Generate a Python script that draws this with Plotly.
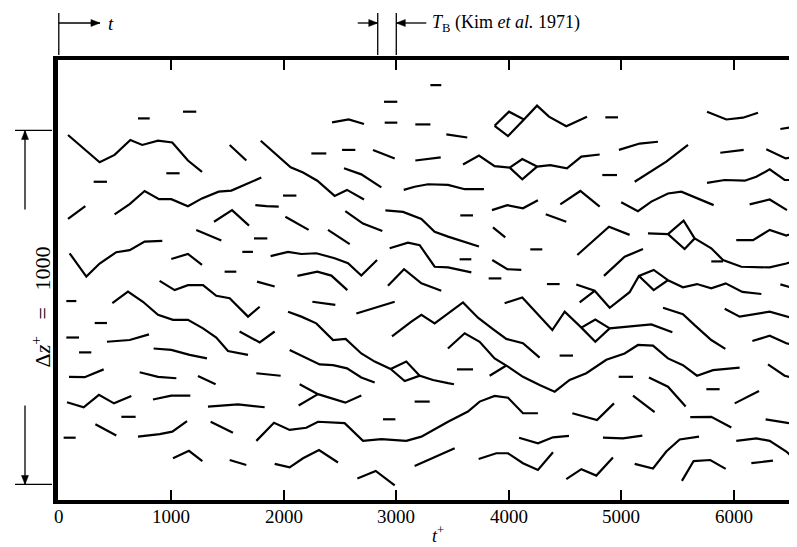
import plotly.graph_objects as go

# ---------------- data (t+ , z+) ----------------
T_RANGE = [-7, 6633]
Z_RANGE = [0, 1243]
X_TICKS = [0, 1000, 2000, 3000, 4000, 5000, 6000]
X_TICK_LABELS = ["0", "1000", "2000", "3000", "4000", "5000", "6000"]
DZ_BAR = [44, 1044]          # scale bar: delta z+ = 1000
TB_MARKS = [2835, 3000]      # burst period marker (Kim et al. 1971)
T_ARROW_END = 366

STREAK_T = [
    [704, 808], [1104, 1222],
    [82, 363, 496, 636, 742, 882, 1009, 1148, 1273],
    [1519, 1667], [310, 428], [956, 1074], [82, 236],
    [496, 630, 763, 891, 1000, 1148, 1273, 1421, 1534, 1800],
    [1380, 1540, 1691], [1222, 1445], [1631, 1726],
    [96, 245, 363, 511, 630, 763, 920],
    [1000, 1148, 1273], [1474, 1578],
    [896, 1030, 1148, 1282, 1400, 1519, 1682, 1786],
    [476, 615, 748, 882, 1015, 1148, 1282, 1400, 1504, 1682],
    [1607, 1786, 1919],
    [67, 156], [319, 428], [67, 180], [428, 630, 802], [180, 289],
    [843, 1000, 1163, 1317], [91, 230, 399], [719, 882, 1045],
    [1237, 1394], [73, 221, 357, 491, 645], [837, 1000, 1169],
    [1326, 1593, 1830], [556, 683], [325, 511], [43, 150],
    [704, 897, 1009, 1140], [1350, 1548], [1015, 1157, 1276], [1519, 1667],
    [2891, 3009], [3303, 3400], [2429, 2577, 2713], [2897, 3009], [3169, 3303],
    [1795, 1934, 2061, 2171, 2298, 2452, 2562, 2713],
    [2245, 2378], [2518, 2636], [2793, 2986], [3169, 3395],
    [2535, 2689, 2867], [3066, 3163, 3282, 3460, 3608, 3779],
    [1993, 2112], [1747, 1845, 1955], [2547, 2704, 2876], [2014, 2221],
    [2903, 3060, 3223, 3341, 3460, 3735], [2393, 2586], [1735, 1854],
    [2941, 3104, 3208, 3341, 3460, 3667],
    [1883, 2038, 2156, 2289, 2452, 2571, 2689, 2829],
    [2121, 2298, 2423, 2565], [1762, 1919], [2926, 3069, 3223, 3400],
    [2254, 2458], [2645, 2986],
    [2038, 2156, 2289, 2438, 2550, 2689, 2808, 2950, 3089, 3208, 3075, 2950, 3075, 3208, 3326, 3460, 3513],
    [2052, 2171, 2319, 2438, 2562, 2689, 2808], [1756, 1972],
    [2141, 2304, 2547, 2689], [2132, 2304], [3163, 3297], [2882, 2992],
    [1756, 1913, 2052, 2200, 2304, 2541, 2704, 2867, 3089, 3223, 3460, 3519, 3637, 3741, 3874, 3993, 4126, 4259],
    [1919, 2052, 2171, 2313, 2482], [2654, 2817, 2986], [3163, 3460, 3519],
    [2962, 3134, 3223, 3341, 3593, 3726, 3859, 3978, 4126, 4274],
    [3874, 4002, 4135, 3993, 3874, 3993, 4135, 4251, 4357, 4511, 4695],
    [4858, 4971], [3445, 3631],
    [3593, 3735, 3874, 4008, 4120, 4251, 4120, 4008, 4120, 4251, 4369, 4517, 4645, 4808],
    [4979, 5163, 5326], [4831, 4962], [5119, 5400, 5593], [3569, 3682],
    [3850, 3987, 4126, 4259], [4458, 4636, 4808],
    [4999, 5148, 5267, 5415, 5534, 5821], [4328, 4511], [3859, 3969],
    [4191, 4298], [4609, 4748, 4891, 5074], [3563, 3667], [3853, 3987, 4111],
    [3821, 3934], [4339, 4452], [4846, 5030, 5193],
    [4600, 4763, 4897, 5074, 5157, 5288, 5415, 5288, 5157, 5288, 5415, 5548, 5673, 5800, 5928, 6076, 6245],
    [4630, 4763],
    [5762, 5934, 6082, 6215], [6414, 6615], [5880, 6088], [6289, 6461, 6615],
    [5762, 5919, 6097, 6200, 6319, 6452, 6615], [6141, 6319, 6473],
    [5237, 5415, 5554, 5652, 5563, 5415, 5563, 5652, 5800, 5904, 6067, 6319, 6467, 6615],
    [5800, 5904], [6022, 6171, 6319, 6467, 6615], [6414, 6615],
    [3459, 3608, 3741, 3874, 3993, 4126, 4274, 4408, 4541, 4689, 4867, 5030, 5148, 5282, 5415, 5548, 5673, 5815, 6052],
    [3830, 3978], [3539, 3682], [4452, 4571], [4977, 5104],
    [3963, 4120, 4387, 4497, 4645, 4769, 4897, 4769, 4645, 4769, 4897, 5267, 5454],
    [4565, 4784, 4935], [5104, 5296], [4091, 4259, 4393, 4535],
    [4837, 5015, 5187], [3732, 3889, 3993, 4126, 4259, 4393],
    [4511, 4645, 4778, 4926], [5119, 5282, 5400, 5519, 5691],
    [5371, 5548, 5652, 5800, 5925], [5919, 6052, 6319, 6467, 6630],
    [6165, 6319, 6467, 6615], [6304, 6452, 6630], [5246, 5415, 5572],
    [5756, 5874], [6008, 6224], [6526, 6630], [5613, 5800, 5978],
    [6283, 6491], [6022, 6200, 6319, 6467, 6585], [5539, 5643, 5791, 5928],
    [6156, 6348],
]

STREAK_Z = [
    [1078, 1078], [1097, 1097],
    [1031, 954, 975, 1017, 1003, 1015, 1010, 959, 927],
    [1003, 959], [899, 899], [923, 923], [794, 830],
    [807, 836, 873, 850, 850, 830, 852, 871, 874, 911],
    [786, 819, 775], [763, 733], [701, 701],
    [697, 631, 668, 700, 706, 730, 732],
    [681, 695, 664], [645, 645],
    [619, 593, 607, 607, 577, 570, 518, 546],
    [556, 589, 560, 523, 509, 509, 485, 459, 421, 410],
    [476, 445, 476],
    [562, 562], [500, 500], [459, 459], [447, 452, 468], [417, 417],
    [428, 424, 410, 400], [348, 347, 369], [361, 348, 344],
    [350, 327], [276, 262, 297, 273, 294], [284, 295, 295],
    [264, 270, 262], [235, 235], [214, 182], [176, 176],
    [179, 186, 193, 223], [221, 190], [118, 139, 110], [113, 99],
    [1125, 1125], [1172, 1172], [1067, 1075, 1062], [1066, 1066], [1061, 1061],
    [1015, 976, 940, 925, 902, 859, 876, 849],
    [979, 979], [989, 989], [989, 965], [959, 968],
    [937, 920, 883], [876, 885, 892, 890, 878, 878],
    [860, 860], [833, 830, 829], [816, 781, 760], [800, 763],
    [818, 814, 794, 758, 744, 716], [763, 723], [739, 739],
    [711, 727, 720, 659, 657, 643],
    [689, 701, 695, 697, 683, 669, 634, 678],
    [633, 645, 634, 593], [617, 603], [605, 652, 612, 591],
    [560, 551], [527, 560],
    [532, 518, 499, 452, 455, 414, 391, 370, 391, 351, 336, 370, 336, 351, 339, 330, 327],
    [424, 405, 383, 381, 372, 346, 332], [358, 351],
    [327, 299, 275, 295], [267, 299], [278, 278], [228, 228],
    [167, 218, 198, 204, 221, 217, 167, 172, 167, 179, 221, 231, 250, 278, 294, 289, 245, 245],
    [102, 92, 118, 141, 106], [61, 82, 41], [96, 137, 146],
    [462, 504, 523, 499, 558, 515, 483, 455, 443, 402],
    [1057, 1097, 1075, 1028, 1057, 1028, 1075, 1114, 1083, 1056, 1083],
    [1081, 1081], [1033, 1024],
    [948, 973, 943, 939, 963, 942, 906, 939, 906, 942, 946, 937, 970, 976],
    [989, 1007, 1012], [918, 918], [899, 956, 1003], [804, 804],
    [819, 833, 824, 847], [835, 873, 829],
    [841, 816, 843, 866, 871, 833], [807, 786], [770, 742],
    [708, 708], [692, 732, 772, 749], [680, 680], [678, 652, 650],
    [626, 626], [610, 610], [633, 687, 709],
    [609, 591, 543, 587, 633, 650, 621, 593, 633, 593, 621, 601, 610, 598, 612, 588, 582],
    [558, 591],
    [1097, 1075, 1080, 1094], [1048, 1059], [981, 989], [991, 965, 972],
    [896, 904, 902, 913, 934, 904, 904], [835, 849, 819],
    [753, 751, 789, 739, 709, 751, 709, 739, 711, 678, 659, 657, 668, 683],
    [674, 674], [734, 734, 763, 747, 763], [609, 591],
    [428, 471, 447, 400, 377, 348, 325, 306, 339, 358, 396, 414, 438, 436, 400, 381, 351, 367, 374],
    [351, 380], [369, 369], [408, 408], [348, 348],
    [556, 572, 480, 532, 487, 510, 485, 447, 487, 447, 485, 496, 474],
    [245, 226, 273], [295, 248], [176, 160, 177, 181],
    [176, 174, 182], [116, 132, 132, 104, 85, 135],
    [59, 87, 69, 120], [102, 89, 137, 171, 179],
    [543, 525, 494, 452, 427], [540, 518, 532, 518, 504],
    [449, 464, 443, 430], [383, 351, 336], [346, 320, 264],
    [313, 313], [273, 308], [267, 267], [234, 235, 205],
    [228, 217], [167, 174, 167, 137, 102], [54, 110, 113, 88],
    [104, 111],
]

# ---------------- layout geometry ----------------
W, H = 797, 547
ML, MR, MT, MB = 50, 0, 52, 55
PW, PH = W - ML - MR, H - MT - MB
SERIF = "Liberation Serif"
NB = "\u00a0"


def t_px(t):
    return ML + (t - T_RANGE[0]) / (T_RANGE[1] - T_RANGE[0]) * PW


def z_py(z):
    return MT + PH - (z - Z_RANGE[0]) / (Z_RANGE[1] - Z_RANGE[0]) * PH


def px_x(px):
    return (px - ML) / PW


def px_y(py):
    return (MT + PH - py) / PH


shapes = []
annotations = []
LINE = dict(color="black", width=1.3)


def seg(x0, y0, x1, y1):
    shapes.append(dict(type="line", xref="paper", yref="paper",
                       x0=px_x(x0), y0=px_y(y0), x1=px_x(x1), y1=px_y(y1), line=LINE))


def head(tx, ty, dx, dy, length=9, half=3.5):
    # filled triangle, tip at (tx, ty) pixels, pointing along (dx, dy)
    bx, by = tx - dx * length, ty - dy * length
    nx, ny = -dy, dx
    pts = [(tx, ty), (bx + nx * half, by + ny * half), (bx - nx * half, by - ny * half)]
    path = "M " + " L ".join(f"{px_x(a):.5f},{px_y(b):.5f}" for a, b in pts) + " Z"
    shapes.append(dict(type="path", xref="paper", yref="paper", path=path,
                       fillcolor="black", line=dict(color="black", width=0.5)))


xs, zs = [], []
for tt, zz in zip(STREAK_T, STREAK_Z):
    xs += list(tt) + [None]
    zs += list(zz) + [None]

fig = go.Figure(go.Scatter(x=xs, y=zs, mode="lines", connectgaps=False,
                           line=dict(color="black", width=2.2), hoverinfo="skip"))

# ---- scale bar on the left ----
BX = 17
y_top, y_bot = z_py(DZ_BAR[1]), z_py(DZ_BAR[0])
y_mid = (y_top + y_bot) / 2
GAP = 98
seg(BX, y_top, BX, y_mid - GAP)
seg(BX, y_mid + GAP, BX, y_bot)
for yb in (y_top, y_bot):
    seg(7, yb, 44, yb)
head(BX, y_top, 0, -1)
head(BX, y_bot, 0, 1)
annotations.append(dict(xref="paper", yref="paper", x=px_x(BX), y=px_y(y_mid),
                        text="\u0394<i>z</i><sup>+</sup>" + NB * 3 + "=" + NB * 3 + "1000",
                        textangle=-90, showarrow=False,
                        font=dict(family=SERIF, size=22, color="black")))

# ---- top markers ----
Y0, Y1, YA = 5, 47, 15
for tv in [0] + TB_MARKS:
    seg(t_px(tv), Y0, t_px(tv), Y1)
x_arr = t_px(T_ARROW_END)
seg(t_px(0), YA, x_arr, YA)
head(x_arr, YA, 1, 0)
annotations.append(dict(xref="paper", yref="paper", x=px_x(x_arr + 6), y=px_y(YA),
                        xanchor="left", yanchor="middle", showarrow=False, text="<i>t</i>",
                        font=dict(family=SERIF, size=19, color="black")))
xa, xb = t_px(TB_MARKS[0]), t_px(TB_MARKS[1])
seg(xa - 20, YA, xa, YA)
head(xa, YA, 1, 0)
seg(xb, YA, xb + 30, YA)
head(xb, YA, -1, 0)
annotations.append(dict(xref="paper", yref="paper", x=px_x(xb + 34), y=px_y(YA),
                        xanchor="left", yanchor="middle", showarrow=False,
                        text="<i>T</i><sub>B</sub> (Kim <i>et al.</i> 1971)",
                        font=dict(family=SERIF, size=18, color="black")))

# ---- x tick labels ----
for tv, tl in zip(X_TICKS, X_TICK_LABELS):
    annotations.append(dict(xref="x", yref="paper", x=tv, y=px_y(508),
                            xanchor="center", yanchor="middle", showarrow=False,
                            text=tl, font=dict(family=SERIF, size=19, color="black")))

# ---- x axis title ----
annotations.append(dict(xref="x", yref="paper", x=3374, y=px_y(526),
                        xanchor="center", yanchor="middle", showarrow=False,
                        text="<i>t</i><sup>+</sup>",
                        font=dict(family=SERIF, size=18, color="black")))

fig.update_layout(
    width=W, height=H, margin=dict(l=ML, r=MR, t=MT, b=MB),
    paper_bgcolor="white", plot_bgcolor="white", showlegend=False,
    xaxis=dict(range=T_RANGE, showgrid=False, zeroline=False, showline=True,
               linewidth=4, linecolor="black", mirror="ticks", ticks="inside",
               ticklen=10, tickwidth=1.5, tickcolor="black",
               tickvals=X_TICKS, showticklabels=False),
    yaxis=dict(range=Z_RANGE, showgrid=False, zeroline=False, showline=True,
               linewidth=5, linecolor="black", showticklabels=False, ticks=""),
    shapes=shapes, annotations=annotations,
)

fig.write_html("out.html")
